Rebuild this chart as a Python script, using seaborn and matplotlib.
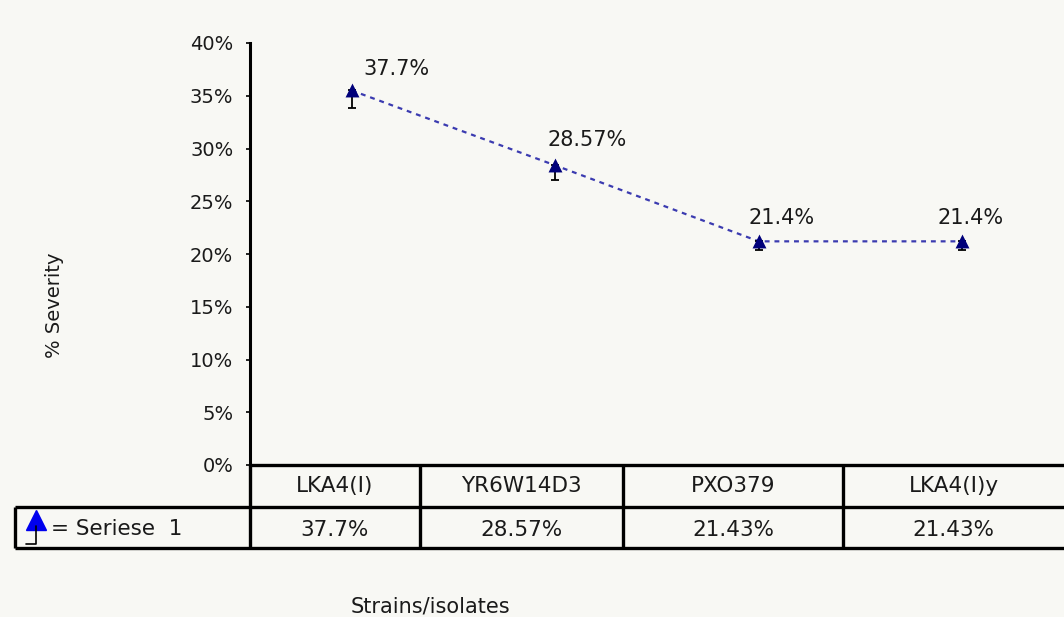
import numpy as np
import pandas as pd
import seaborn as sns
import matplotlib
matplotlib.use('Agg')
import matplotlib.pyplot as plt
from matplotlib.lines import Line2D

# data
strains = ["LKA4(I)", "YR6W14D3", "PXO379", "LKA4(I)y"]
severity = [35.5, 28.4, 21.2, 21.2]          # where the markers sit
err_low = [1.7, 1.4, 0.8, 0.8]                # error bars only go down
point_labels = ["37.7%", "28.57%", "21.4%", "21.4%"]
table_values = ["37.7%", "28.57%", "21.43%", "21.43%"]
yticks = [0, 5, 10, 15, 20, 25, 30, 35, 40]

sns.set_theme(style="white")
plt.rcParams['font.family'] = ['DejaVu Sans']

W, H = 1064, 617
bg = '#f8f8f4'
txt = '#1a1a1a'

fig = plt.figure(figsize=(W / 100, H / 100), dpi=100, facecolor=bg)


def fx(px):
    return px / W


def fy(py):
    return 1 - py / H


ax = fig.add_axes([fx(250), fy(465), fx(1064) - fx(250), fy(43) - fy(465)])
ax.set_facecolor(bg)

df = pd.DataFrame({"pos": np.arange(len(strains)), "severity": severity})
sns.lineplot(data=df, x="pos", y="severity", ax=ax, color='#3b3bb0',
             linestyle=(0, (2.2, 2.2)), linewidth=1.6, zorder=2)
ax.errorbar(df["pos"], df["severity"], yerr=[err_low, [0] * len(err_low)],
            fmt='none', ecolor='black', elinewidth=1.3, capsize=3,
            capthick=1.3, zorder=3)
ax.scatter(df["pos"], df["severity"], marker='^', s=100, color='#00007a',
           zorder=4, linewidths=0)

label_offsets = [(45, 21), (32, 25), (23, 23), (8, 23)]
for i, lab in enumerate(point_labels):
    ax.annotate(lab, (i, severity[i]), xytext=label_offsets[i],
                textcoords='offset pixels', ha='center', va='center',
                fontsize=15, color=txt)

ax.set_xlim(-0.5, 3.5)
ax.set_ylim(0, 40)
ax.set_yticks(yticks)
ax.set_yticklabels([f"{t}%" for t in yticks], fontsize=14, color=txt)
ax.set_xticks([])
ax.set_xlabel("")
ax.set_ylabel("")
ax.tick_params(axis='y', left=True, length=3, width=1.2, pad=9, color='black')
for s in ['top', 'right', 'bottom']:
    ax.spines[s].set_visible(False)
ax.spines['left'].set_color('black')
ax.spines['left'].set_linewidth(2.2)

# data table under the axis
cols = [250, 420, 623, 843, 1064]
lw = 2.4


def hline(y, x0, x1):
    fig.add_artist(Line2D([fx(x0), fx(x1)], [fy(y), fy(y)], color='black',
                          lw=lw, solid_capstyle='butt'))


def vline(x, y0, y1):
    fig.add_artist(Line2D([fx(x), fx(x)], [fy(y0), fy(y1)], color='black',
                          lw=lw, solid_capstyle='butt'))


hline(465, 250, 1064)
hline(507, 15, 1064)
hline(548, 15, 1064)
for c in cols[:-1]:
    vline(c, 465, 548)
vline(15, 507, 548)

for i in range(len(strains)):
    cx = (cols[i] + cols[i + 1]) / 2
    fig.text(fx(cx), fy(486), strains[i], ha='center', va='center',
             fontsize=15.5, color=txt)
    fig.text(fx(cx), fy(530), table_values[i], ha='center', va='center',
             fontsize=15.5, color=txt)

# legend cell
fig.add_artist(Line2D([fx(36)], [fy(520)], marker='^', markersize=15,
                      color='#0000ee', linestyle='none'))
fig.add_artist(Line2D([fx(26), fx(36), fx(36)], [fy(544), fy(544), fy(526)],
                      color='black', lw=1.2))
fig.text(fx(51), fy(529), "= Seriese  1", ha='left', va='center',
         fontsize=15.5, color=txt)

fig.text(fx(55), fy(305), "% Severity", rotation=90, ha='center',
         va='center', fontsize=14, color=txt)
fig.text(fx(430), fy(606), "Strains/isolates", ha='center', va='center',
         fontsize=15, color=txt)

fig.savefig("out.png", dpi=100, facecolor=bg)
